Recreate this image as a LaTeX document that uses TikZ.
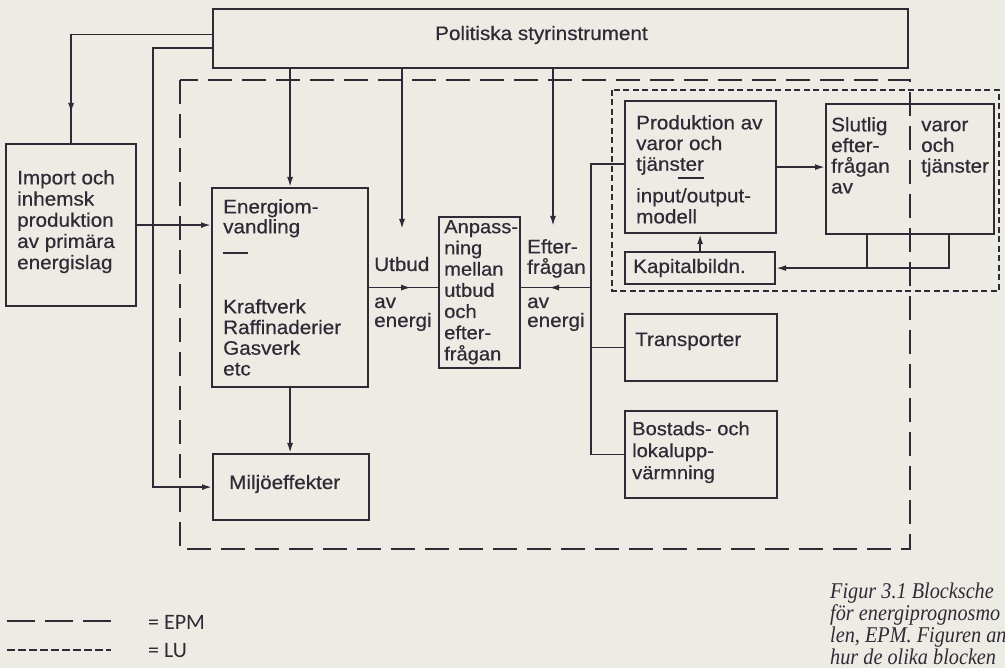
\documentclass[tikz,border=0pt]{standalone}
\usepackage{fontspec}
\setmainfont{Liberation Serif}
\newfontfamily\diagfont[FakeStretch=1.06,FakeBold=0.5]{Liberation Sans}
\newfontfamily\legfont{Carlito}
\newfontfamily\capfont[FakeStretch=0.9]{Liberation Serif}
\usetikzlibrary{arrows.meta,decorations.markings}
\definecolor{paper}{RGB}{236,236,228}
\definecolor{ink}{RGB}{48,42,54}
\newcommand{\fs}{\rule{0pt}{14pt}}
\tikzset{
  box/.style={draw=ink, line width=2.2pt, rectangle, inner sep=0pt, anchor=north west},
  conn/.style={draw=ink, line width=1.7pt},
  tip/.style={-{Latex[length=10pt,width=6pt]}},
  midarr/.style={postaction={decorate}, decoration={markings, mark=at position #1 with {\arrow{Latex[length=10pt,width=6pt]}}}},
  lbl/.style={inner sep=0pt, anchor=north west, align=left, text=ink, font={\diagfont\fontsize{19.5}{21.2}\selectfont}},
  slbl/.style={inner sep=0pt, anchor=base west, text=ink, font={\diagfont\fontsize{19.5}{21.2}\selectfont}},
  epm/.style={draw=ink, line width=1.8pt, dash pattern=on 24pt off 10pt},
  lu/.style={draw=ink, line width=2.8pt, dash pattern=on 6pt off 3.5pt},
  captxt/.style={inner sep=0pt, anchor=base west, text=ink, font={\capfont\itshape\fontsize{22.5}{22}\selectfont}},
  legtxt/.style={inner sep=0pt, anchor=base west, text=ink, font={\legfont\fontsize{22}{22}\selectfont}}
}
\begin{document}
\begin{tikzpicture}[x=1pt,y=-1pt]
\useasboundingbox (0,0) rectangle (1005,668);
\fill[paper] (0,0) rectangle (1005,668);
\clip (0,0) rectangle (1005,668);

% dashed regions
\draw[epm] (180,80) rectangle (910,549);
\draw[lu] (612,90) rectangle (999,291);

% boxes
\node[box, minimum width=695pt, minimum height=59pt] (pol) at (212,8) {};
\node[box, minimum width=130pt, minimum height=162pt] (imp) at (5,143) {};
\node[box, minimum width=156pt, minimum height=199pt] (eno) at (211,187) {};
\node[box, minimum width=156pt, minimum height=66pt] (mil) at (212,453) {};
\node[box, minimum width=81pt, minimum height=151pt] (anp) at (438,216) {};
\node[box, minimum width=152pt, minimum height=67pt] (tra) at (624,313) {};
\node[box, minimum width=152pt, minimum height=87pt] (bos) at (624,410) {};
\node[box, minimum width=151pt, minimum height=132pt] (pro) at (624,100) {};
\node[box, minimum width=150pt, minimum height=32pt] (kap) at (624,251) {};
\node[box, minimum width=168pt, minimum height=130pt] (slu) at (825,103) {};

% texts
\node[slbl] (tpol) at (435,40) {Politiska styrinstrument};
\node[lbl] (timp) at (17,170) {\fs Import och\\inhemsk\\produktion\\av primära\\energislag};
\node[lbl, font={\diagfont\fontsize{19.5}{20}\selectfont}] (teno1) at (223,199) {\fs Energiom-\\vandling};
\draw[conn] (223,253) -- (248,253);
\node[lbl, font={\diagfont\fontsize{19.5}{20.7}\selectfont}] (teno2) at (223,299) {\fs Kraftverk\\Raffinaderier\\Gasverk\\etc};
\node[slbl] (tmil) at (229,489) {Miljöeffekter};
\node[lbl, font={\diagfont\fontsize{19}{21.2}\selectfont}] (tanp) at (444,219) {\fs Anpass-\\ning\\mellan\\utbud\\och\\efter-\\frågan};
\node[slbl] (tut) at (374,271) {Utbud};
\node[slbl] (tutav) at (374,308) {av};
\node[slbl] (tuten) at (374,327) {energi};
\node[lbl, font={\diagfont\fontsize{19.5}{20.5}\selectfont}] (tef) at (527,239) {\fs Efter-\\frågan};
\node[slbl] (tefav) at (527,308) {av};
\node[slbl] (tefen) at (527,327) {energi};
\node[slbl] (ttra) at (635,346) {Transporter};
\node[lbl, font={\diagfont\fontsize{19}{22}\selectfont}] (tbos) at (632,421) {\fs Bostads- och\\lokalupp-\\värmning};
\node[lbl, font={\diagfont\fontsize{19.5}{20.7}\selectfont}] (tpro1) at (636,115) {\fs Produktion av\\varor och\\tjänster};
\draw[conn] (678,178) -- (704,178);
\node[lbl, font={\diagfont\fontsize{19.5}{21}\selectfont}] (tpro2) at (636,188) {\fs input/output-\\modell};
\node[slbl] (tkap) at (633,273) {Kapitalbildn.};
\node[lbl, font={\diagfont\fontsize{19.5}{20.7}\selectfont}] (tslu) at (831,117) {\fs Slutlig\\efter-\\frågan\\av};
\node[lbl, font={\diagfont\fontsize{19.5}{20.7}\selectfont}] (tvar) at (921,117) {\fs varor\\och\\tjänster};

% free arrow ends
\coordinate (ut) at (402,229);
\coordinate (ef) at (553,226);

% connectors
\draw[conn, midarr=-30pt] ([yshift=4pt]pol.west) -| (imp.north);
\draw[conn, tip] ([yshift=-9.5pt]pol.west) -| ([xshift=-59pt]mil.west) -- (mil.west);
\draw[conn, tip] (imp.east) -- (imp.east -| eno.west);
\draw[conn, tip] (pol.south -| eno.north) -- (eno.north);
\draw[conn, tip] (pol.south -| ut) -- (ut);
\draw[conn, tip] (pol.south -| ef) -- (ef);
\draw[conn, midarr=42pt] (eno.east) -- (eno.east -| anp.west);
\draw[conn, tip] (eno.south) -- (eno.south |- mil.north);
\draw[conn] ([yshift=3pt]pro.west) -- ++(-33,0) coordinate (jt) -- (jt |- bos.west) -- (bos.west);
\draw[conn] (jt |- tra.west) -- (tra.west);
\draw[conn, midarr=42pt] (jt |- eno.east) -- (eno.east -| anp.east);
\draw[conn, tip] (pro.east) -- (pro.east -| slu.west);
\draw[conn] ([xshift=-43pt]slu.south) -- ([xshift=-43pt]slu.south |- kap.east);
\draw[conn, tip] ([xshift=39pt]slu.south) |- (kap.east);
\draw[conn, tip] (kap.north) -- (kap.north |- pro.south);

% legend
\coordinate (le1a) at (7,621);
\coordinate (le1b) at (111,621);
\draw[line width=1.4pt, draw=ink, dash pattern=on 28pt off 10pt] (le1a) -- (le1b);
\node[legtxt] (leg1) at (148,629) {= EPM};
\coordinate (le2a) at (7,650);
\coordinate (le2b) at (111,650);
\draw[line width=2pt, draw=ink, dash pattern=on 8pt off 3pt] (le2a) -- (le2b);
\node[legtxt] (leg2) at (148,657) {= LU};

% caption
\node[captxt] (c1) at (830,598) {Figur 3.1 Blocksche};
\node[captxt] (c2) at (830,620) {för energiprognosmo};
\node[captxt] (c3) at (830,642) {len, EPM. Figuren an};
\node[captxt] (c4) at (830,664) {hur de olika blocken};
\end{tikzpicture}
\end{document}
